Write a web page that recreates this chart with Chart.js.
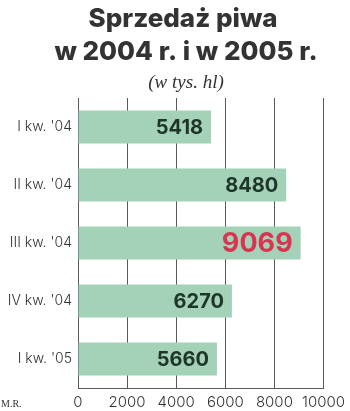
<!DOCTYPE html>
<html>
<head>
<meta charset="utf-8">
<script src="https://cdn.jsdelivr.net/npm/chart.js@4/dist/chart.umd.min.js"></script>
<style>
  html, body { margin: 0; padding: 0; background: #fff; }
  #wrap { width: 350px; height: 411px; position: relative; }
</style>
</head>
<body>
<div id="wrap"><canvas id="c"></canvas></div>
<script>
const categories = ["I kw. '04", "II kw. '04", "III kw. '04", "IV kw. '04", "I kw. '05"];
const sales = [5418, 8480, 9069, 6270, 5660];
const highlighted = [false, false, true, false, false];
const xTicks = [0, 2000, 4000, 6000, 8000, 10000];

const titleLines = ['Sprzedaż piwa', 'w 2004 r. i w 2005 r.'];
const subtitle = '(w tys. hl)';
const credit = 'M.R.';

const BAR = '#a4d2b9';
const GRID = '#5a5a5a';

// title, value labels and the credit are drawn on the canvas
const extras = {
    id: 'extras',
    afterDatasetsDraw(chart) {
        const ctx = chart.ctx;
        const meta = chart.getDatasetMeta(0);
        ctx.save();
        ctx.textBaseline = 'middle';
        ctx.textAlign = 'right';
        meta.data.forEach((bar, i) => {
            const big = highlighted[i];
            ctx.font = big ? 'bold 27px Inter' : 'bold 20px Inter';
            ctx.fillStyle = big ? '#d93450' : '#1e3528';
            ctx.fillText(String(sales[i]), bar.x - 8, bar.y + 1);
        });
        ctx.restore();
    },
    afterDraw(chart) {
        const ctx = chart.ctx;
        ctx.save();
        ctx.fillStyle = '#333';
        ctx.textAlign = 'center';
        ctx.textBaseline = 'alphabetic';
        ctx.font = '800 26px Inter';
        ctx.fillText(titleLines[0], 183, 27);
        ctx.fillText(titleLines[1], 186, 60);
        ctx.font = 'italic 19px "Liberation Serif"';
        ctx.fillText(subtitle, 186, 88);
        ctx.textAlign = 'left';
        ctx.font = '10px "Liberation Serif"';
        ctx.fillText(credit, 1, 407);
        ctx.restore();
    }
};

new Chart(document.getElementById('c'), {
    type: 'bar',
    data: {
        labels: categories,
        datasets: [{
            data: sales,
            backgroundColor: BAR,
            borderWidth: 0,
            categoryPercentage: 1,
            barPercentage: 0.57
        }]
    },
    options: {
        indexAxis: 'y',
        responsive: true,
        maintainAspectRatio: false,
        animation: false,
        layout: { padding: { top: 98, right: 25, left: 0, bottom: 0 } },
        plugins: {
            legend: { display: false },
            tooltip: { enabled: false }
        },
        scales: {
            x: {
                min: 0,
                max: 10000,
                afterBuildTicks(axis) {
                    axis.ticks = xTicks.map(v => ({ value: v }));
                },
                afterFit(axis) { axis.height = 23; },
                grid: { color: GRID, lineWidth: 1, drawTicks: false },
                border: { color: GRID, width: 1 },
                ticks: {
                    color: '#333',
                    padding: 5,
                    autoSkip: false,
                    maxRotation: 0,
                    minRotation: 0,
                    callback: v => String(v),
                    font: { family: 'Inter', size: 15, weight: '300' }
                }
            },
            y: {
                afterFit(axis) { axis.width = 78; },
                grid: { display: false, drawTicks: false },
                border: { color: GRID, width: 1 },
                ticks: {
                    color: '#333',
                    padding: 6,
                    font: { family: 'Inter', size: 14, weight: '300' }
                }
            }
        }
    },
    plugins: [extras]
});
</script>
</body>
</html>
